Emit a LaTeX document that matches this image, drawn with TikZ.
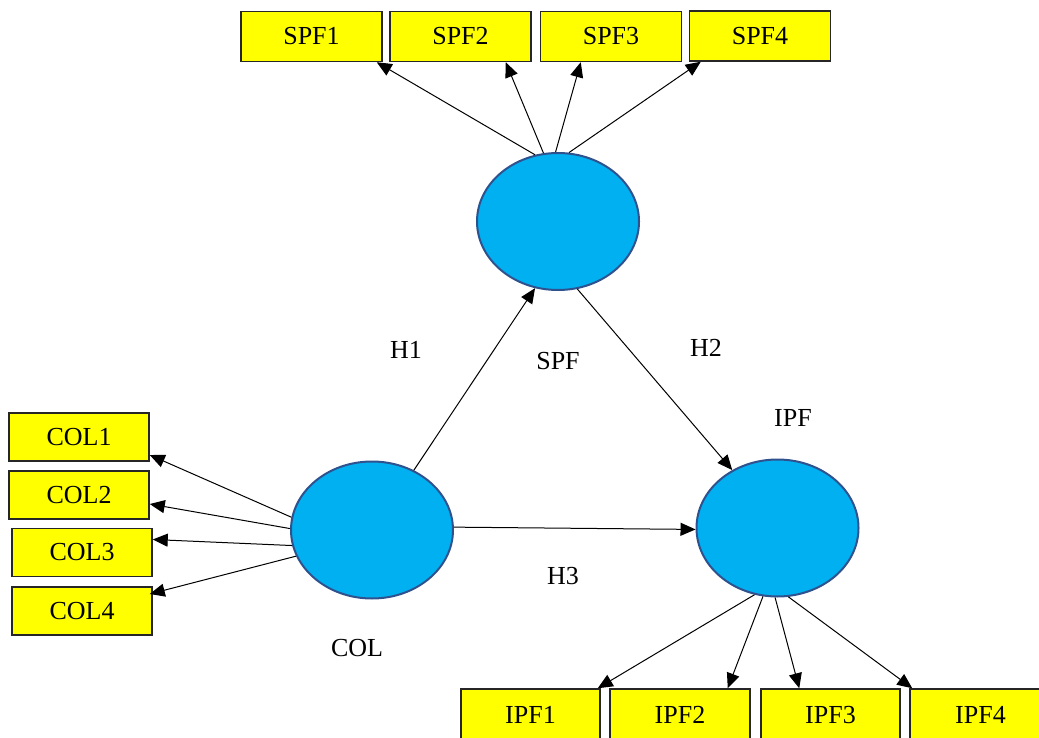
\documentclass[tikz,border=0pt]{standalone}
\usepackage{fontspec}
\setmainfont{Liberation Serif}
\usetikzlibrary{shapes.geometric,arrows.meta}
\definecolor{boxyellow}{HTML}{FFFF00}
\definecolor{latfill}{HTML}{00B0F0}
\definecolor{latline}{HTML}{2F528F}
\begin{document}
\begin{tikzpicture}[x=1pt,y=-1pt,
  every node/.style={font=\fontsize{26}{30}\selectfont},
  indbox/.style={draw=black!85,line width=1.5pt,fill=boxyellow,rectangle,
    minimum width=141pt,minimum height=50pt,inner sep=0pt,anchor=center},
  latent/.style={draw=latline,line width=2pt,fill=latfill,ellipse,
    minimum width=162pt,minimum height=137pt,inner sep=0pt,anchor=center},
  lbl/.style={anchor=center,inner sep=0pt},
  arr/.style={draw=black,line width=1pt,-{Triangle[length=15pt,width=13pt]}}]
\useasboundingbox (0,0) rectangle (1039,738);
\clip (0,0) rectangle (1039,738);
% latent variables
\node[latent] (spf) at (558,221.5) {};
\node[latent] (col) at (372,530) {};
\node[latent] (ipf) at (777.5,528) {};
% indicators
\node[indbox] (spf1) at (311.5,36.5) {SPF1};
\node[indbox] (spf2) at (460.5,36.5) {SPF2};
\node[indbox] (spf3) at (611,36.5) {SPF3};
\node[indbox] (spf4) at (760,36) {SPF4};
\node[indbox,minimum width=140pt,minimum height=48pt] (col1) at (79,437) {COL1};
\node[indbox,minimum width=140pt,minimum height=48pt] (col2) at (79,495) {COL2};
\node[indbox,minimum width=140pt,minimum height=48pt] (col3) at (82,552.5) {COL3};
\node[indbox,minimum width=140pt,minimum height=48pt] (col4) at (82,611) {COL4};
\node[indbox,minimum width=139pt,minimum height=52pt] (ipf1) at (530.5,715) {IPF1};
\node[indbox,minimum width=140pt,minimum height=52pt] (ipf2) at (680,715) {IPF2};
\node[indbox,minimum width=139pt,minimum height=52pt] (ipf3) at (830.5,715) {IPF3};
\node[indbox,minimum width=141pt,minimum height=52pt] (ipf4) at (980.5,715) {IPF4};
% labels
\node[lbl] (h1) at (406,350) {H1};
\node[lbl] (spflbl) at (558,361) {SPF};
\node[lbl] (h2) at (706,348) {H2};
\node[lbl] (ipflbl) at (793,418) {IPF};
\node[lbl] (h3) at (563,576) {H3};
\node[lbl] (collbl) at (357,648) {COL};
% SPF loadings
\draw[arr] (spf.109) -- ([xshift=-6pt]spf1.south east);
\draw[arr] (spf.102) -- ([xshift=-26pt]spf2.south east);
\draw[arr] (spf.92) -- ([xshift=41pt]spf3.south west);
\draw[arr] (spf.81) -- ([xshift=12pt]spf4.south west);
% COL loadings
\draw[arr] (col.171) -- ([yshift=-18pt]col1.east);
\draw[arr] (col.179) -- ([yshift=-9pt]col2.east);
\draw[arr] (col.191) -- ([yshift=13pt]col3.east);
\draw[arr] (col.199) -- ([yshift=17pt,xshift=-3pt]col4.east);
% IPF loadings
\draw[arr] (ipf.251) -- ([xshift=-3pt]ipf1.north east);
\draw[arr] (ipf.258) -- ([xshift=-23pt]ipf2.north east);
\draw[arr] (ipf.268) -- ([xshift=39pt]ipf3.north west);
\draw[arr] (ipf.279) -- ([xshift=3pt]ipf4.north west);
% structural paths
\draw[arr] (col.55) -- (spf.-109);
\draw[arr] (spf.-74) -- (ipf.128);
\draw[arr] (col.2) -- (ipf.181);
\end{tikzpicture}
\end{document}
